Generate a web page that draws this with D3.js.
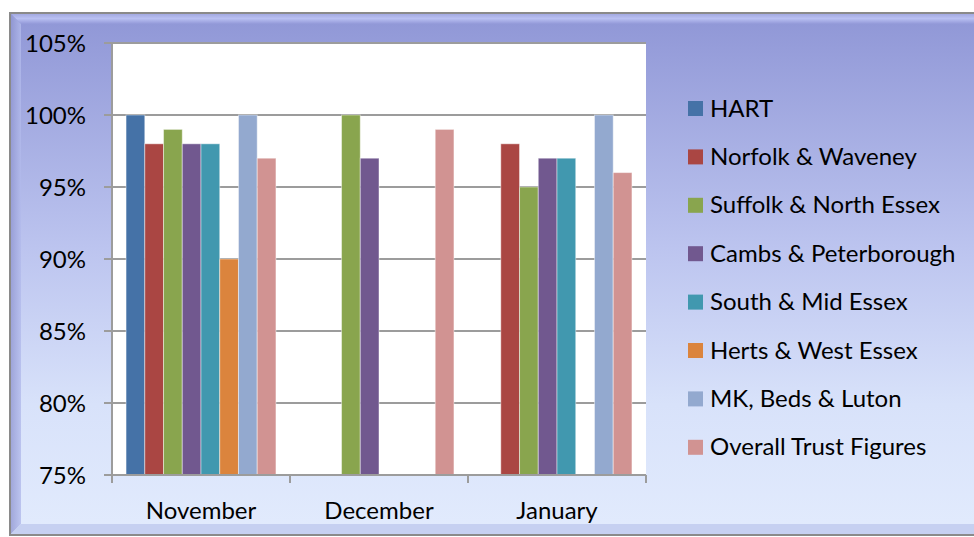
<!DOCTYPE html>
<meta charset="utf-8">
<style>
body { margin: 0; background: #fff; }
text { font-family: Lato, "Open Sans", sans-serif; fill: #000; }
</style>
<svg width="974" height="537"></svg>
<script src="https://cdnjs.cloudflare.com/ajax/libs/d3/7.8.5/d3.min.js"></script>
<script>
// data
var months = ["November", "December", "January"];
var series = ["HART", "Norfolk & Waveney", "Suffolk & North Essex", "Cambs & Peterborough",
              "South & Mid Essex", "Herts & West Essex", "MK, Beds & Luton", "Overall Trust Figures"];
var colors = ["#4572A7", "#AA4643", "#89A54E", "#71588F", "#4198AF", "#DB843D", "#93A9CF", "#D19392"];
// one array per month, in series order (null = no bar)
var november = [1.00, 0.98, 0.99, 0.98, 0.98, 0.90, 1.00, 0.97];
var december = [null, null, 1.00, 0.97, null, null, null, 0.99];
var january  = [null, 0.98, 0.95, 0.97, 0.97, null, 1.00, 0.96];
var yTicks = [0.75, 0.80, 0.85, 0.90, 0.95, 1.00, 1.05];

var values = [november, december, january];

var svg = d3.select("svg");

// background frame with gradient
var defs = svg.append("defs");
var bg = defs.append("linearGradient").attr("id", "bg").attr("x1", 0).attr("y1", 0).attr("x2", 0).attr("y2", 1);
bg.append("stop").attr("offset", "0%").attr("stop-color", "#8f96d6");
bg.append("stop").attr("offset", "45%").attr("stop-color", "#bcc4ef");
bg.append("stop").attr("offset", "75%").attr("stop-color", "#d8e2fa");
bg.append("stop").attr("offset", "100%").attr("stop-color", "#e2ebfd");
var topBevel = defs.append("linearGradient").attr("id", "topBevel").attr("x1", 0).attr("y1", 0).attr("x2", 0).attr("y2", 1);
topBevel.append("stop").attr("offset", "0%").attr("stop-color", "#9ea4de");
topBevel.append("stop").attr("offset", "50%").attr("stop-color", "#b9c0f2");
topBevel.append("stop").attr("offset", "100%").attr("stop-color", "#9298d8");
var leftBevel = defs.append("linearGradient").attr("id", "leftBevel").attr("x1", 0).attr("y1", 0).attr("x2", 1).attr("y2", 0);
leftBevel.append("stop").attr("offset", "0%").attr("stop-color", "#8e94cf");
leftBevel.append("stop").attr("offset", "100%").attr("stop-color", "#b3bbec");

var fx = 10, fy = 13, fw = 980, fh = 522, bv = 11;
svg.append("rect").attr("x", fx).attr("y", fy).attr("width", fw).attr("height", fh)
    .attr("fill", "url(#bg)");
svg.append("path").attr("fill", "url(#topBevel)")
    .attr("d", `M${fx},${fy}L${fx + fw},${fy}L${fx + fw - bv},${fy + bv}L${fx + bv},${fy + bv}Z`);
svg.append("path").attr("fill", "url(#leftBevel)").attr("opacity", 0.8)
    .attr("d", `M${fx},${fy}L${fx + bv},${fy + bv}L${fx + bv},${fy + fh - bv}L${fx},${fy + fh}Z`);
svg.append("path").attr("fill", "#c3cdf0").attr("opacity", 0.9)
    .attr("d", `M${fx},${fy + fh}L${fx + bv},${fy + fh - bv}L${fx + fw},${fy + fh - bv}L${fx + fw},${fy + fh}Z`);
svg.append("rect").attr("x", fx).attr("y", fy).attr("width", fw).attr("height", fh)
    .attr("fill", "none").attr("stroke", "#8a8a8a").attr("stroke-width", 2);

// plot area
var plotLeft = 112, plotRight = 646, plotTop = 43, plotBottom = 475;
svg.append("rect").attr("x", plotLeft).attr("y", plotTop)
    .attr("width", plotRight - plotLeft).attr("height", plotBottom - plotTop)
    .attr("fill", "#fff");

var x0 = d3.scaleBand().domain(months).range([plotLeft, plotRight]);
var x1 = d3.scaleBand().domain(series).range([0, x0.bandwidth()]).paddingInner(0).paddingOuter(0.75);
var y = d3.scaleLinear().domain([0.75, 1.05]).range([plotBottom, plotTop]);

// gridlines
svg.append("g").selectAll("line").data(yTicks).join("line")
    .attr("x1", plotLeft - 8).attr("x2", plotRight)
    .attr("y1", d => y(d)).attr("y2", d => y(d))
    .attr("stroke", "#9c9c9c").attr("stroke-width", 2);

// bars
var groups = svg.append("g").selectAll("g").data(months).join("g")
    .attr("transform", d => `translate(${x0(d)},0)`);
groups.selectAll("rect")
    .data((m, i) => series.map((s, j) => ({s: s, v: values[i][j], c: colors[j]})).filter(d => d.v != null))
    .join("rect")
    .attr("x", d => x1(d.s))
    .attr("width", x1.bandwidth())
    .attr("y", d => y(d.v))
    .attr("height", d => y(0.75) - y(d.v))
    .attr("fill", d => d.c)
    .attr("stroke", "rgba(255,255,255,0.45)").attr("stroke-width", 1);

// axes lines
svg.append("line").attr("x1", plotLeft).attr("x2", plotLeft).attr("y1", plotTop).attr("y2", plotBottom + 8)
    .attr("stroke", "#9c9c9c").attr("stroke-width", 2);
svg.append("line").attr("x1", plotLeft).attr("x2", plotRight).attr("y1", plotBottom).attr("y2", plotBottom)
    .attr("stroke", "#9c9c9c").attr("stroke-width", 2);
var bounds = months.map(m => x0(m)).concat([plotRight]);
svg.append("g").selectAll("line").data(bounds).join("line")
    .attr("x1", d => d).attr("x2", d => d).attr("y1", plotBottom).attr("y2", plotBottom + 8)
    .attr("stroke", "#9c9c9c").attr("stroke-width", 2);

// y labels
svg.append("g").selectAll("text").data(yTicks).join("text")
    .attr("x", 86).attr("y", d => y(d)).attr("dy", "0.36em")
    .attr("text-anchor", "end").style("font-size", "24px")
    .text(d => d3.format(".0%")(d));

// x labels
svg.append("g").selectAll("text").data(months).join("text")
    .attr("x", d => x0(d) + x0.bandwidth() / 2).attr("y", 519)
    .attr("text-anchor", "middle").style("font-size", "24px")
    .text(d => d);

// legend
var legend = svg.append("g").selectAll("g").data(series).join("g")
    .attr("transform", (d, i) => `translate(688,${108 + i * 48.4})`);
legend.append("rect").attr("x", 0).attr("y", -7).attr("width", 15).attr("height", 15)
    .attr("fill", (d, i) => colors[i]);
legend.append("text").attr("x", 22).attr("y", 0).attr("dy", "0.36em")
    .style("font-size", "24px").text(d => d);
</script>
